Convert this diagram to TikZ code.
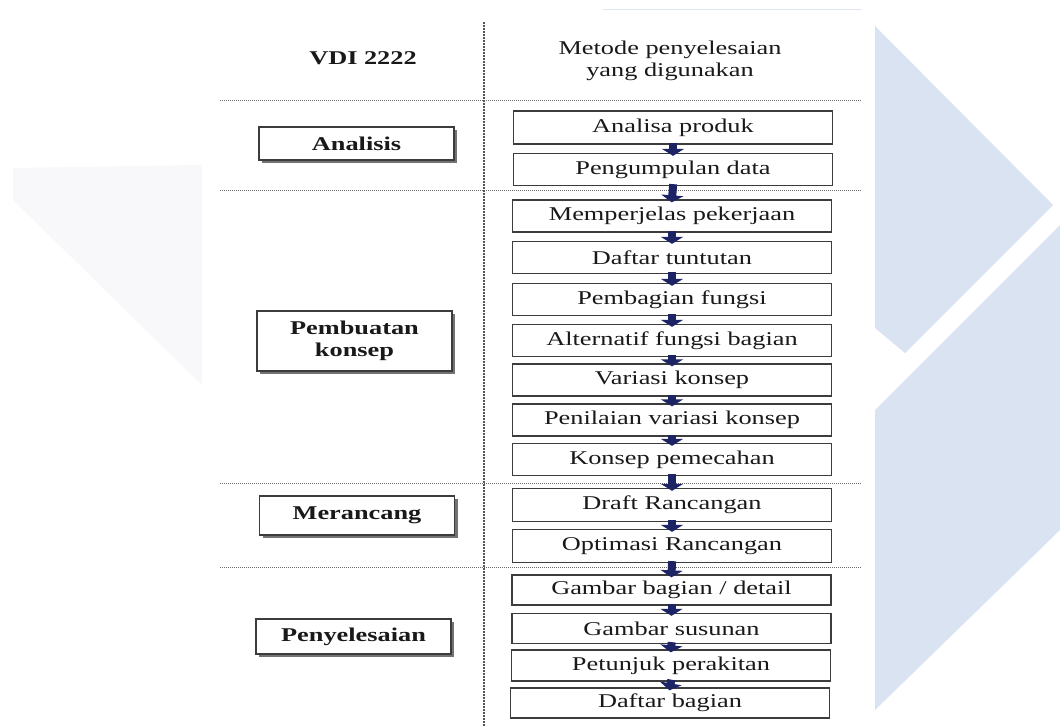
\documentclass[tikz,border=0pt]{standalone}
\usepackage{fontspec}
\setmainfont{Liberation Serif}[FakeStretch=1.35]
\usetikzlibrary{arrows.meta,shadows}
\definecolor{wm}{RGB}{218,227,242}
\definecolor{wmfaint}{RGB}{248,248,250}
\definecolor{wmline}{RGB}{226,231,246}
\definecolor{navy}{RGB}{28,36,102}
\definecolor{ink}{RGB}{25,25,25}
\definecolor{rulegray}{RGB}{105,105,105}
\begin{document}
\begin{tikzpicture}[x=1pt,y=-1pt,
  txt/.style={text=ink, inner sep=0pt, font=\fontsize{19.5}{22}\selectfont},
  stepbox/.style={txt, draw=ink!85, line width=1.3pt, fill=white,
    minimum width=319pt, minimum height=32pt},
  phasebox/.style={txt, draw=ink!85, line width=1.4pt, fill=white,
    minimum width=195pt, align=center, font=\fontsize{19.5}{22}\selectfont\bfseries,
    drop shadow={shadow xshift=3pt, shadow yshift=-3pt, fill=black!55, opacity=1}},
  flow/.style={draw=navy, line width=8pt, -{Triangle[width=22pt 0,length=7pt 0]},
    shorten <=-2pt, shorten >=-3pt},
  hrule/.style={draw=rulegray, line width=1pt, dash pattern=on 1pt off 1pt},
  vrule/.style={draw=rulegray!80!black, line width=1.2pt, dash pattern=on 1.6pt off 1.4pt}]
\useasboundingbox (0,0) rectangle (1060,727);
\fill[white] (0,0) rectangle (1060,727);
% watermark shapes
\fill[wmfaint] (13,168) -- (202,165) -- (202,385) -- (13,200) -- cycle;
\fill[wm] (875,26) -- (1053,205) -- (905,353) -- (875,328) -- cycle;
\fill[wm] (875,410) -- (1060,225) -- (1060,530) -- (875,710) -- cycle;
\draw[wmline, line width=1pt] (603,10) -- (862,10);
% rules
\coordinate (vt) at (484,22);
\coordinate (vb) at (484,727);
\draw[vrule] (vt) -- (vb);
\foreach \yy/\nm in {101/a,191/b,483/c,567/d}{
  \coordinate (hl\nm) at (220,\yy);
  \coordinate (hr\nm) at (862,\yy);
  \draw[hrule] (hl\nm) -- (hr\nm);
}
% headers
\node[txt, font=\fontsize{19.5}{22}\selectfont\bfseries] (h1) at (363,58) {VDI 2222};
\node[txt, align=center] (h2) at (670,61) {Metode penyelesaian\\yang digunakan};
% phase boxes
\node[phasebox, minimum height=33pt] (p1) at (356.5,143.5) {Analisis};
\node[phasebox, minimum height=60pt] (p2) at (354.5,341) {Pembuatan\\konsep};
\node[phasebox, minimum height=39pt] (p3) at (357,515.5) {Merancang};
\node[phasebox, minimum height=35pt] (p4) at (353.5,636.5) {Penyelesaian};
% step boxes
\node[stepbox, minimum height=33pt] (r1) at (673,127.5) {Analisa produk};
\node[stepbox] (r2) at (673,169.5) {Pengumpulan data};
\node[stepbox] (r3) at (672,216) {Memperjelas pekerjaan};
\node[stepbox] (r4) at (672,257.5) {Daftar tuntutan};
\node[stepbox] (r5) at (672,299.5) {Pembagian fungsi};
\node[stepbox] (r6) at (672,340.5) {Alternatif fungsi bagian};
\node[stepbox] (r7) at (672,380) {Variasi konsep};
\node[stepbox] (r8) at (672,420) {Penilaian variasi konsep};
\node[stepbox] (r9) at (672,459.5) {Konsep pemecahan};
\node[stepbox, minimum height=33pt] (r10) at (672,505) {Draft Rancangan};
\node[stepbox, minimum height=33pt] (r11) at (672,546) {Optimasi Rancangan};
\node[stepbox, minimum height=30pt] (r12) at (671.5,590) {Gambar bagian / detail};
\node[stepbox, minimum height=30pt] (r13) at (671.5,628.5) {Gambar susunan};
\node[stepbox, minimum height=31pt] (r14) at (671,665.5) {Petunjuk perakitan};
\node[stepbox, minimum height=30pt] (r15) at (670,703) {Daftar bagian};
% arrows
\foreach \a/\b in {r1/r2,r2/r3,r3/r4,r4/r5,r5/r6,r6/r7,r7/r8,r8/r9,r9/r10,r10/r11,r11/r12,r12/r13,r13/r14,r14/r15}{
  \draw[flow] (\a.south) -- (\b.north);
}
\end{tikzpicture}
\end{document}
